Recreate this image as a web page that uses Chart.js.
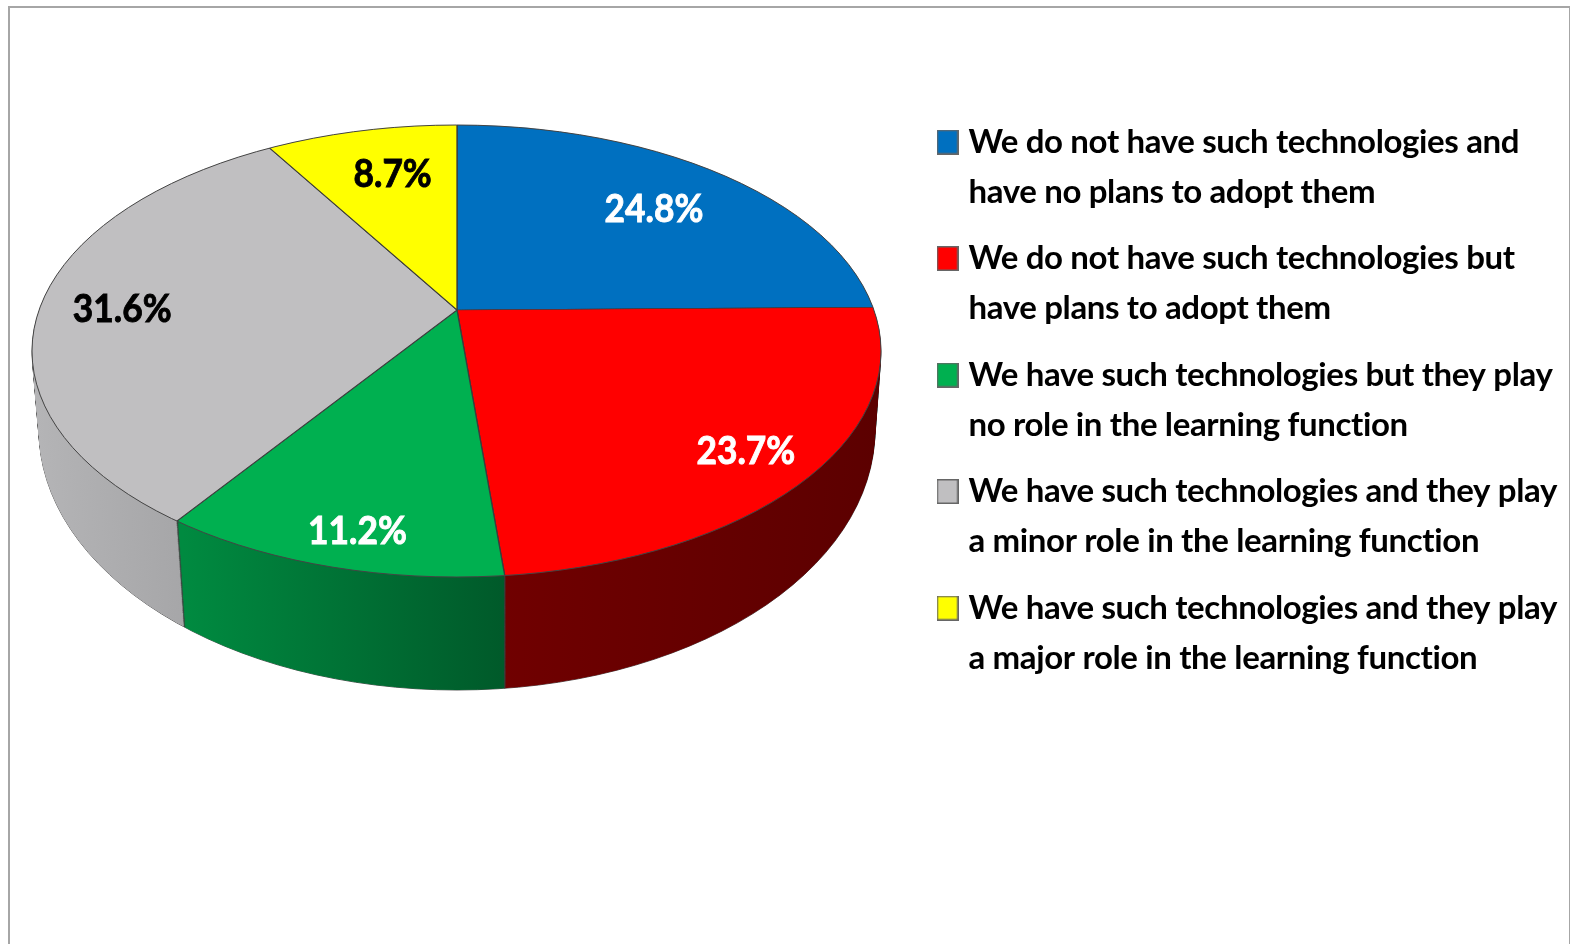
<!DOCTYPE html>
<html>
<head>
<meta charset="utf-8">
<title>Technologies and the learning function</title>
<script src="https://cdn.jsdelivr.net/npm/chart.js@4/dist/chart.umd.js"></script>
<style>
    html, body { margin: 0; padding: 0; background: #fff; overflow: hidden; }
    canvas { display: block; }
    #frame { position: absolute; left: 8px; top: 6px; width: 1559px; height: 945px; border: 2px solid #a6a6a6; pointer-events: none; }
</style>
</head>
<body>
<canvas id="pieChart" width="1570" height="944"></canvas>
<div id="frame"></div>
<script>
const categories = [
    ['We do not have such technologies and', 'have no plans to adopt them'],
    ['We do not have such technologies but', 'have plans to adopt them'],
    ['We have such technologies but they play', 'no role in the learning function'],
    ['We have such technologies and they play', 'a minor role in the learning function'],
    ['We have such technologies and they play', 'a major role in the learning function']
];
const shares = [24.8, 23.7, 11.2, 31.6, 8.7];
const sliceColors = ['#0070c0', '#ff0000', '#00b050', '#c0bfc1', '#ffff00'];
const labelColors = ['#ffffff', '#ffffff', '#ffffff', '#000000', '#000000'];

// 3d look of the pie
const apex = { x: 457, y: 310 };
const squash = 0.526;
const topRim = { x: 456.5, y: 351, rx: 424.5, ry: 226 };
const lowRim = { x: 457, y: 430, rx: 418, ry: 260 };
const wallLayers = 118;
const wallDrop = 107;
const wallNarrow = 0.98;
const wallShades = [
    ['#004a80', '#004a80', 0, 424],
    ['#700000', '#5c0000', 46, 424],
    ['#008a40', '#005a2a', -275, 46],
    ['#b4b4b6', '#a6a6a8', -424, -275],
    ['#8a8a00', '#8a8a00', -190, 0]
];
const labelReach = [276, 391, 430, 335, 268];
const labelNudge = [[3, 3], [-2, 4], [10, 3], [0, 5], [8, 0]];

function withColors(arc, fill, ctx) {
    const saved = arc.options;
    arc.options = Object.assign({}, saved, { backgroundColor: fill });
    arc.draw(ctx);
    arc.options = saved;
}

function rimPath(ctx, t) {
    ctx.beginPath();
    ctx.ellipse(
        topRim.x + (lowRim.x - topRim.x) * t,
        topRim.y + (lowRim.y - topRim.y) * t,
        topRim.rx + (lowRim.rx - topRim.rx) * t,
        topRim.ry + (lowRim.ry - topRim.ry) * t,
        0, 0, Math.PI * 2
    );
}

const pie3d = {
    id: 'pie3d',
    afterLayout(chart) {
        chart.legend.left = 926.5;
    },
    beforeDraw(chart) {
        chart.ctx.letterSpacing = '-0.36px';
    },
    beforeDatasetsDraw(chart) {
        const ctx = chart.ctx;
        ctx.letterSpacing = '0px';
        const arcs = chart.getDatasetMeta(0).data;
        const cx = arcs[0].x, cy = arcs[0].y;

        const fills = wallShades.map((s) => {
            const g = ctx.createLinearGradient(cx + s[2], 0, cx + s[3], 0);
            g.addColorStop(0, s[0]);
            g.addColorStop(1, s[1]);
            return g;
        });

        // wall outline first, the fills leave only its outer edge
        ctx.strokeStyle = '#555';
        ctx.lineWidth = 1;
        for (let i = wallLayers; i > 0; i -= 4) {
            rimPath(ctx, i / wallLayers);
            ctx.stroke();
        }

        // side wall, stacked from the bottom rim up to the top one
        for (let i = wallLayers; i > 0; i--) {
            const t = i / wallLayers;
            ctx.save();
            rimPath(ctx, t);
            ctx.clip();
            ctx.translate(apex.x, apex.y + wallDrop * t);
            ctx.scale(1 + (wallNarrow - 1) * t, squash);
            ctx.translate(-cx, -cy);
            arcs.forEach((arc, k) => withColors(arc, fills[k], ctx));
            ctx.restore();
        }

        // top face, the library draws the arcs inside this transform
        ctx.save();
        rimPath(ctx, 0);
        ctx.clip();
        ctx.translate(apex.x, apex.y);
        ctx.scale(1, squash);
        ctx.translate(-cx, -cy);
    },
    afterDatasetsDraw(chart) {
        const ctx = chart.ctx;
        ctx.restore();

        rimPath(ctx, 0);
        ctx.strokeStyle = '#444';
        ctx.lineWidth = 1;
        ctx.stroke();

        ctx.font = 'bold 38px Lato';
        ctx.textAlign = 'center';
        ctx.textBaseline = 'middle';
        chart.getDatasetMeta(0).data.forEach((arc, i) => {
            const mid = (arc.startAngle + arc.endAngle) / 2;
            ctx.save();
            ctx.translate(
                apex.x + labelReach[i] * Math.cos(mid) + labelNudge[i][0],
                apex.y + labelReach[i] * Math.sin(mid) * squash + labelNudge[i][1]
            );
            ctx.scale(0.93, 1);
            ctx.fillStyle = labelColors[i];
            ctx.strokeStyle = labelColors[i];
            ctx.lineWidth = 0.9;
            ctx.fillText(shares[i].toFixed(1) + '%', 0, 0);
            ctx.strokeText(shares[i].toFixed(1) + '%', 0, 0);
            ctx.restore();
        });
    }
};

function legendBox(color) {
    const c = document.createElement('canvas');
    c.width = 22;
    c.height = 25;
    const g = c.getContext('2d');
    g.fillStyle = color;
    g.fillRect(0, 0, 22, 25);
    g.strokeStyle = '#666';
    g.lineWidth = 1.5;
    g.strokeRect(0.75, 0.75, 20.5, 23.5);
    return c;
}

const ctx = document.getElementById('pieChart').getContext('2d');

const chart = new Chart(ctx, {
    type: 'pie',
    data: {
        labels: categories,
        datasets: [{
            data: shares,
            backgroundColor: sliceColors,
            borderColor: '#3c3c3c',
            borderWidth: 1.3,
            clip: false
        }]
    },
    options: {
        responsive: false,
        animation: false,
        devicePixelRatio: 1,
        radius: 1200,
        layout: { padding: { top: 109 } },
        plugins: {
            tooltip: { enabled: false },
            legend: {
                position: 'right',
                align: 'start',
                labels: {
                    usePointStyle: true,
                    pointStyleWidth: 9,
                    padding: 16.5,
                    color: '#000',
                    font: { family: 'Lato', size: 33, weight: 'bold', lineHeight: 50 / 33 },
                    generateLabels: () => categories.map((text, i) => ({
                        text: text,
                        fontColor: '#000',
                        pointStyle: legendBox(sliceColors[i]),
                        hidden: false,
                        index: i
                    }))
                }
            }
        }
    },
    plugins: [pie3d]
});
</script>
</body>
</html>
